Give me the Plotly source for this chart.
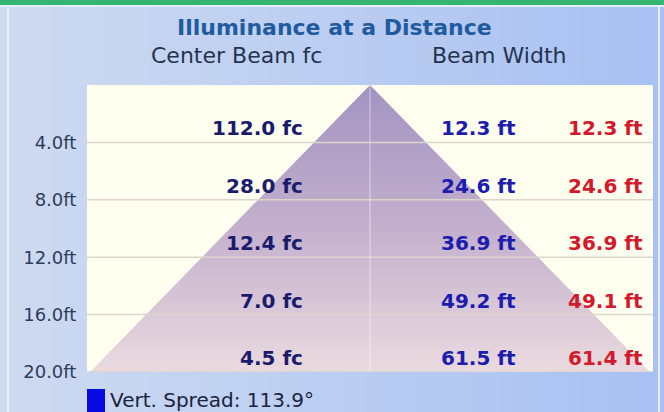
import plotly.graph_objects as go

# ---- data ----
distances = [4, 8, 12, 16, 20]
tick_labels = ["4.0ft", "8.0ft", "12.0ft", "16.0ft", "20.0ft"]
center_fc = [112.0, 28.0, 12.4, 7.0, 4.5]
beam_width_h = [12.3, 24.6, 36.9, 49.2, 61.5]
beam_width_v = [12.3, 24.6, 36.9, 49.1, 61.4]
vert_spread = 113.9
title = "Illuminance at a Distance"
header_left = "Center Beam fc"
header_right = "Beam Width"

W, H = 664, 412
ML, MR, MT, MB = 87, 11, 85, 40
PW, PH = W - ML - MR, H - MT - MB


def px(xp):
    return (xp - ML) / PW


def py(yp):
    return (H - MB - yp) / PH


FONT = "DejaVu Sans"

fig = go.Figure()

# beam triangle from the farthest beam width
half = beam_width_h[-1] / 2
fig.add_trace(go.Scatter(
    x=[-half, 0, half, -half],
    y=[distances[-1], 0, distances[-1], distances[-1]],
    mode="lines",
    line=dict(width=0, color="rgba(0,0,0,0)"),
    fill="toself",
    fillgradient=dict(type="vertical", start=0, stop=distances[-1],
                      colorscale=[[0, "#a293c2"], [0.5, "#c4b0cd"], [1, "#eadadf"]]),
    hoverinfo="skip",
    showlegend=False,
))

shapes = []
# background gradient strips
N = 40
c0 = (206, 218, 240)
c1 = (168, 192, 242)
for i in range(N):
    t = i / (N - 1)
    col = tuple(round(c0[k] + (c1[k] - c0[k]) * t) for k in range(3))
    shapes.append(dict(type="rect", xref="paper", yref="paper", layer="below",
                       x0=px(W * i / N), x1=px(W * (i + 1) / N + 1),
                       y0=py(H), y1=py(0), line=dict(width=0),
                       fillcolor="rgb(%d,%d,%d)" % col))
# plot area background
shapes.append(dict(type="rect", xref="paper", yref="paper", layer="below",
                   x0=0, x1=1, y0=0, y1=1, line=dict(width=0), fillcolor="#fffff0"))
# green top bar
shapes.append(dict(type="rect", xref="paper", yref="paper", layer="above",
                   x0=px(0), x1=px(W), y0=py(5), y1=py(0), line=dict(width=0),
                   fillcolor="#36b472"))
shapes.append(dict(type="rect", xref="paper", yref="paper", layer="above",
                   x0=px(0), x1=px(W), y0=py(7), y1=py(5), line=dict(width=0),
                   fillcolor="#e4eef6"))
# side border lines
for xb in (8, 659):
    shapes.append(dict(type="line", xref="paper", yref="paper", layer="above",
                       x0=px(xb), x1=px(xb), y0=py(H), y1=py(7),
                       line=dict(color="#e6ecf8", width=2)))
# legend swatch
shapes.append(dict(type="rect", xref="paper", yref="paper", layer="above",
                   x0=px(87), x1=px(105), y0=py(412), y1=py(389), line=dict(width=0),
                   fillcolor="#0a0ae6"))
fig.update_layout(shapes=shapes)

# gridlines above the beam fill
for d in distances:
    fig.add_hline(y=d, line=dict(color="#dbd5cb", width=1.5), layer="above")
fig.add_vline(x=0, line=dict(color="rgba(255,255,255,0.35)", width=1.5), layer="above")

ann = []
for d, fc, bh, bv in zip(distances, center_fc, beam_width_h, beam_width_v):
    ann.append(dict(x=px(305), y=d, xref="paper", yref="y", xanchor="right", yanchor="bottom",
                    text="%.1f fc" % fc, showarrow=False,
                    font=dict(family=FONT, size=20, color="#1b1b6e", weight="bold")))
    ann.append(dict(x=px(518), y=d, xref="paper", yref="y", xanchor="right", yanchor="bottom",
                    text="%.1f ft" % bh, showarrow=False,
                    font=dict(family=FONT, size=20, color="#1c1cae", weight="bold")))
    ann.append(dict(x=px(645), y=d, xref="paper", yref="y", xanchor="right", yanchor="bottom",
                    text="%.1f ft" % bv, showarrow=False,
                    font=dict(family=FONT, size=20, color="#d21a2c", weight="bold")))

ann.append(dict(x=px(334), y=py(27), xref="paper", yref="paper", xanchor="center", yanchor="middle",
                text=title, showarrow=False,
                font=dict(family=FONT, size=22, color="#1f5b9e", weight="bold")))
ann.append(dict(x=px(236), y=py(56), xref="paper", yref="paper", xanchor="center", yanchor="middle",
                text=header_left, showarrow=False,
                font=dict(family=FONT, size=22, color="#24344f")))
ann.append(dict(x=px(499), y=py(56), xref="paper", yref="paper", xanchor="center", yanchor="middle",
                text=header_right, showarrow=False,
                font=dict(family=FONT, size=22, color="#24344f")))
ann.append(dict(x=px(108), y=py(386), xref="paper", yref="paper", xanchor="left", yanchor="top",
                text="Vert. Spread: %.1f°" % vert_spread, showarrow=False,
                font=dict(family=FONT, size=20, color="#1a2440")))
fig.update_layout(annotations=ann)

fig.update_layout(
    width=W, height=H,
    margin=dict(l=ML, r=MR, t=MT, b=MB, pad=0),
    paper_bgcolor="#c4d2ee",
    plot_bgcolor="#fffff0",
    showlegend=False,
    xaxis=dict(range=[-half * PW / 560, half * PW / 560], visible=False, fixedrange=True),
    yaxis=dict(range=[distances[-1], 0], tickvals=distances, ticktext=tick_labels,
               showgrid=False, zeroline=False, showline=False, ticks="outside",
               ticklen=6, tickcolor="rgba(0,0,0,0)",
               tickfont=dict(family=FONT, size=18, color="#2c3d5c"), fixedrange=True),
)

fig.write_html("out.html", config={"displayModeBar": False},
               post_script="document.body.style.margin='0';document.body.style.overflow='hidden';")
